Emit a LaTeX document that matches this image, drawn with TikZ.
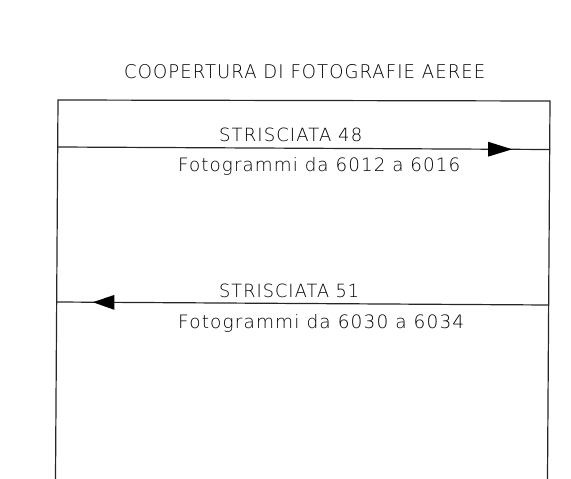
\documentclass[tikz,border=0pt]{standalone}
\usepackage{fontspec}
\setmainfont{DejaVu Sans ExtraLight}[LetterSpace=6]
\usetikzlibrary{calc}
\tikzset{
  frame/.style={line width=1.2pt, draw=black!85},
  strip/.style={line width=1.2pt, draw=black!85},
  head/.style={fill=black},
  lbl/.style={inner sep=0pt, anchor=base west, text=black}
}
\newcommand{\fitT}[3]{\resizebox{#1pt}{#2pt}{#3}}
\begin{document}
\begin{tikzpicture}[x=1pt,y=-1pt]
\useasboundingbox (0,0) rectangle (571,479);
% frame
\coordinate (bl) at (55.5,479);
\coordinate (tl) at (58,100);
\coordinate (tr) at (550,101);
\coordinate (br) at (547.5,479);
\draw[frame] (bl) -- (tl) -- (tr) -- (br);
% title
\node[lbl] (title) at (124,78) {\fitT{361}{14}{COOPERTURA DI FOTOGRAFIE AEREE}};
% strip 48
\coordinate (a1) at (58,147);
\coordinate (b1) at (550,149.5);
\draw[strip] (a1) -- (b1);
\coordinate (t1) at ($(a1)!0.923!(b1)$);
\coordinate (s1) at ($(a1)!0.874!(b1)$);
\fill[head] (t1) -- ($(s1)+(0,7.5)$) -- ($(s1)+(0,-7.5)$) -- cycle;
\node[lbl] (s48) at (219,141) {\fitT{143}{13.5}{STRISCIATA 48}};
\node[lbl] (f48) at (178,171.5) {\fitT{282}{14}{Fotogrammi da 6012 a 6016}};
% strip 51
\coordinate (a2) at (548,305);
\coordinate (b2) at (57,302);
\draw[strip] (a2) -- (b2);
\coordinate (t2) at ($(a2)!0.927!(b2)$);
\coordinate (s2) at ($(a2)!0.883!(b2)$);
\fill[head] (t2) -- ($(s2)+(0,7.5)$) -- ($(s2)+(0,-7.5)$) -- cycle;
\node[lbl] (s51) at (219,297) {\fitT{140}{13.5}{STRISCIATA 51}};
\node[lbl] (f51) at (178,328.5) {\fitT{286}{14}{Fotogrammi da 6030 a 6034}};
\end{tikzpicture}
\end{document}
